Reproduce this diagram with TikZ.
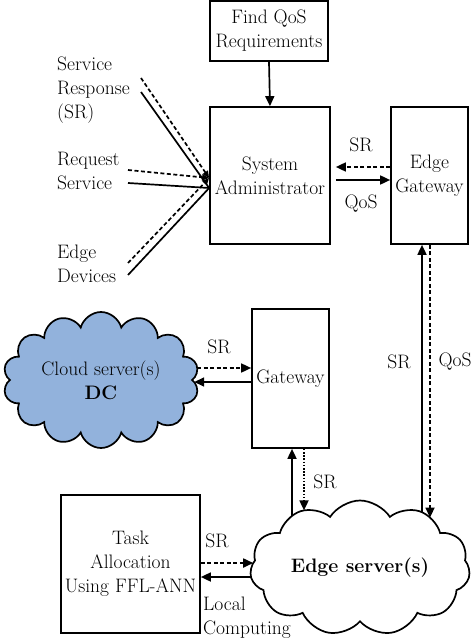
\documentclass[tikz,border=0pt]{standalone}
\usetikzlibrary{arrows.meta,shapes.symbols,intersections}
\definecolor{cloudblue}{RGB}{146,178,220}
\begin{document}
\begin{tikzpicture}[x=1pt,y=-1pt,
  every node/.style={font=\fontsize{19.5}{24}\selectfont},
  box/.style={draw,line width=1.7pt,inner sep=0pt,align=center},
  conn/.style={line width=1.7pt},
  tip/.style={-{Triangle[length=10pt,width=9pt]}},
  stip/.style={-{Triangle[length=7pt,width=6pt]}},
  dsh/.style={dash pattern=on 4pt off 2.5pt},
  dtt/.style={dash pattern=on 1.6pt off 1.6pt},
  lbl/.style={inner sep=0pt},
  cloudnode/.style={cloud,draw,line width=1.7pt,cloud ignores aspect,align=center,inner sep=0pt}]
\useasboundingbox (0,0) rectangle (474,644);

% boxes
\node[box,minimum width=118pt,minimum height=60pt] (fq) at (269,31) {Find QoS\\Requirements};
\node[box,minimum width=120pt,minimum height=137pt] (sa) at (270,175.5) {System\\Administrator};
\node[box,minimum width=77pt,minimum height=137pt] (eg) at (429.5,175.5) {Edge\\Gateway};
\node[box,minimum width=77pt,minimum height=139pt] (gw) at (290.5,378.5) {Gateway};
\node[box,minimum width=139pt,minimum height=138pt] (ta) at (130.5,564) {Task\\Allocation\\Using FFL-ANN};

% clouds
\node[cloudnode,fill=cloudblue,cloud puffs=14,minimum width=196pt,minimum height=136pt,name path=cspath] (cs) at (101,380) {Cloud server(s)\\\textbf{DC}};
\node[cloudnode,fill=white,cloud puffs=11,cloud puff arc=115,minimum width=220pt,minimum height=135pt,name path=espath] (es) at (360,568) {\textbf{Edge server(s)}};

% left labels
\node[lbl,anchor=west,align=left] (srl) at (57,90) {Service\\Response\\(SR)};
\node[lbl,anchor=west,align=left] (rql) at (57,171) {Request\\Service};
\node[lbl,anchor=west,align=left] (edl) at (57,264) {Edge\\Devices};
\node[lbl,anchor=west,align=left] (lcl) at (203,618) {Local\\Computing};

% connector labels
\node[lbl] (l1) at (361,145) {SR};
\node[lbl] (l2) at (361,204) {QoS};
\node[lbl] (l3) at (219,347) {SR};
\node[lbl] (l4) at (325,482) {SR};
\node[lbl] (l5) at (399,362) {SR};
\node[lbl] (l6) at (455,362) {QoS};
\node[lbl] (l7) at (217,541) {SR};

% free ends of the left lines
\coordinate (srd) at (141,78);
\coordinate (srs) at (141,92);
\coordinate (rqd) at (128,170);
\coordinate (rqs) at (128,183);
\coordinate (edd) at (128,263);
\coordinate (eds) at (128,275);
\coordinate (hubd) at (sa.west |- 0,178);
\coordinate (hubs) at (sa.west |- 0,188);

\draw[conn] (srs) -- (hubs);
\draw[conn] (rqs) -- (hubs);
\draw[conn] (eds) -- (hubs);
\draw[conn,dsh,stip] (srd) -- (hubd);
\draw[conn,dsh,stip] (rqd) -- (hubd);
\draw[conn,dsh,stip] (edd) -- (hubd);

% top arrow
\draw[conn,tip] (fq.south) -- (sa.north);

% SA <-> EG
\draw[conn,dsh,tip] (eg.west |- 0,167) -- ([xshift=5pt]sa.east |- 0,167);
\draw[conn,tip] ([xshift=5pt]sa.east |- 0,180) -- (eg.west |- 0,180);

% cloud boundary points
\path[name path=h1] (250,368) -- (100,368);
\path[name path=h2] (250,382) -- (100,382);
\path[name intersections={of=h1 and cspath,sort by=h1,by={csa}}];
\path[name intersections={of=h2 and cspath,sort by=h2,by={csb}}];
\path[name path=v1] (292,450) -- (292,580);
\path[name path=v2] (304,450) -- (304,580);
\path[name path=v3] (422,450) -- (422,580);
\path[name path=v4] (430,450) -- (430,580);
\path[name intersections={of=v1 and espath,sort by=v1,by={esg1}}];
\path[name intersections={of=v2 and espath,sort by=v2,by={esg2}}];
\path[name intersections={of=v3 and espath,sort by=v3,by={ese1}}];
\path[name intersections={of=v4 and espath,sort by=v4,by={ese2}}];
\path[name path=h3] (200,563) -- (360,563);
\path[name path=h4] (200,577) -- (360,577);
\path[name intersections={of=h3 and espath,sort by=h3,by={est1}}];
\path[name intersections={of=h4 and espath,sort by=h4,by={est2}}];

% cloud server <-> gateway
\draw[conn,dsh,tip] (csa) -- (gw.west |- csa);
\draw[conn,tip] (gw.west |- csb) -- (csb);

% gateway <-> edge server
\draw[conn,tip] (esg1) -- (gw.south -| esg1);
\draw[conn,dtt,tip] (gw.south -| esg2) -- (esg2);

% edge gateway <-> edge server
\draw[conn,tip] (ese1) -- (eg.south -| ese1);
\draw[conn,dsh,tip] (eg.south -| ese2) -- (ese2);

% task allocation <-> edge server
\draw[conn,dsh,tip] (ta.east |- est1) -- (est1);
\draw[conn,tip] (est2) -- (ta.east |- est2);
\end{tikzpicture}
\end{document}
